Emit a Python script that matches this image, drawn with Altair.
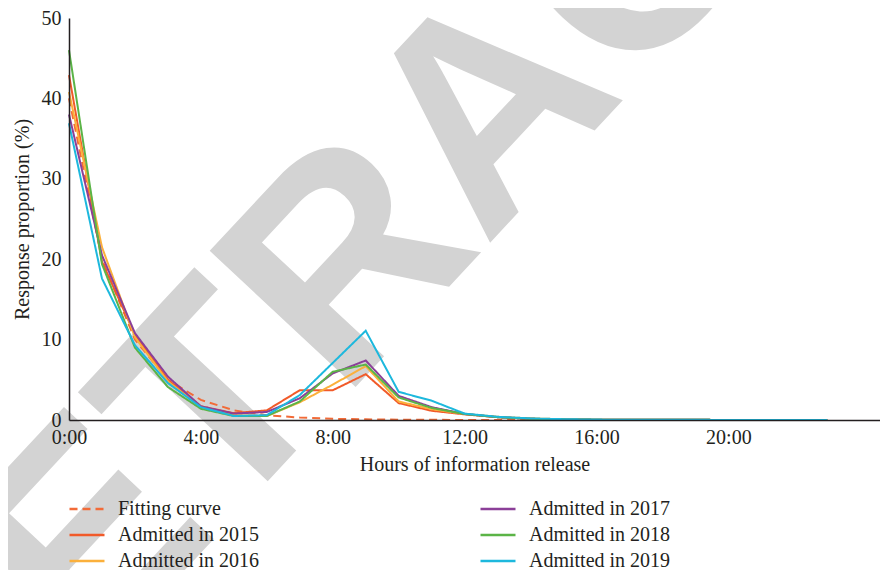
import altair as alt
import pandas as pd

hours = list(range(24))
series_names = ["Fitting curve", "Admitted in 2015", "Admitted in 2016",
                "Admitted in 2017", "Admitted in 2018", "Admitted in 2019"]

fitting = [40.0, 20.0, 10.0, 5.0, 2.5, 1.2, 0.6, 0.3, 0.15, 0.08, 0.04, 0.02,
           0.01, 0.01, 0.0, 0.0, 0.0, 0.0, 0.0, 0.0, 0.0, 0.0, 0.0, 0.0]
y2015 = [42.9, 19.7, 10.6, 5.0, 1.7, 0.85, 1.2, 3.7, 3.7, 5.7, 2.1, 1.15,
         0.7, 0.35, 0.15, 0.08, 0.04, 0.03, 0.02, 0.02, 0.01, 0.01, 0.01, 0.01]
y2016 = [40.8, 21.5, 10.3, 4.8, 1.6, 0.6, 0.5, 2.2, 4.4, 6.7, 2.3, 1.35,
         0.75, 0.4, 0.2, 0.1, 0.05, 0.03, 0.02, 0.02, 0.01, 0.01, 0.01, 0.01]
y2017 = [38.0, 20.5, 10.8, 5.4, 1.7, 0.8, 1.0, 2.7, 5.8, 7.4, 3.0, 1.6,
         0.75, 0.35, 0.15, 0.08, 0.04, 0.03, 0.02, 0.02, 0.01, 0.01, 0.01, 0.01]
y2018 = [46.0, 19.4, 9.0, 4.1, 1.4, 0.5, 0.5, 2.3, 6.0, 6.9, 2.8, 1.5,
         0.75, 0.35, 0.15, 0.08, 0.04, 0.03, 0.02, 0.02, 0.01, 0.01, 0.01, 0.01]
y2019 = [36.9, 17.6, 9.3, 4.6, 1.6, 0.5, 0.6, 3.1, 7.1, 11.1, 3.5, 2.4,
         0.8, 0.4, 0.2, 0.1, 0.05, 0.03, 0.02, 0.02, 0.01, 0.01, 0.01, 0.01]

colors = ["#F26B38", "#F15A29", "#FBB03B", "#8B3F98", "#5BB447", "#1DB8DD"]
dashes = [[8, 5], [1, 0], [1, 0], [1, 0], [1, 0], [1, 0]]

x_ticks = [0, 4, 8, 12, 16, 20]
y_ticks = [0, 10, 20, 30, 40, 50]

all_values = [fitting, y2015, y2016, y2017, y2018, y2019]
rows = []
for name, vals in zip(series_names, all_values):
    for h, v in zip(hours, vals):
        rows.append({"hour": h, "value": v, "series": name})
df = pd.DataFrame(rows)

FONT = "Liberation Serif"
TXT = "#231F20"

watermark = alt.Chart(pd.DataFrame({"t": ["RETRACTED"]})).mark_text(
    angle=313, fontSize=290, font="Liberation Sans", fontWeight="bold",
    color="#D3D3D3", align="center", baseline="middle"
).encode(x=alt.value(424), y=alt.value(94), text="t:N")

lines = alt.Chart(df).mark_line(strokeWidth=2).encode(
    x=alt.X("hour:Q", scale=alt.Scale(domain=[0, 24.6], nice=False),
            axis=alt.Axis(values=x_ticks, labelExpr="datum.value + ':00'",
                          labelFlush=False, title="Hours of information release",
                          labelFont=FONT, titleFont=FONT, titlePadding=7, zindex=1)),
    y=alt.Y("value:Q", scale=alt.Scale(domain=[0, 50], nice=False),
            axis=alt.Axis(values=y_ticks, title="Response proportion (%)",
                          labelFont=FONT, titleFont=FONT, titlePadding=9, labelPadding=8,
                          zindex=1)),
    color=alt.Color("series:N", scale=alt.Scale(domain=series_names, range=colors),
                    legend=alt.Legend(title=None, labelFont=FONT)),
    strokeDash=alt.StrokeDash("series:N", scale=alt.Scale(domain=series_names, range=dashes),
                              legend=alt.Legend(title=None, labelFont=FONT)),
    detail="series:N",
    order=alt.Order("hour:Q"),
)

chart = alt.layer(watermark, lines).properties(
    width=811, height=402,
    padding={"left": 61, "top": 10, "right": 0, "bottom": 150},
    autosize=alt.AutoSizeParams(type="none"),
).configure(font=FONT).configure_view(stroke=None).configure_axis(
    grid=False, ticks=False, domainColor=TXT, domainWidth=1.5,
    labelFont=FONT, labelFontSize=20, labelColor=TXT, labelPadding=7,
    titleFont=FONT, titleFontSize=20, titleColor=TXT, titleFontWeight="normal",
).configure_legend(
    orient="none", legendX=4, legendY=477, columns=2, columnPadding=215, rowPadding=2,
    symbolSize=625, symbolType="M-1.4,0H1.4", symbolStrokeWidth=2.5, labelOffset=17,
    labelFont=FONT, labelFontSize=20, labelColor=TXT, padding=0,
)

chart.save("out.html", embed_options={"renderer": "svg", "actions": False})
